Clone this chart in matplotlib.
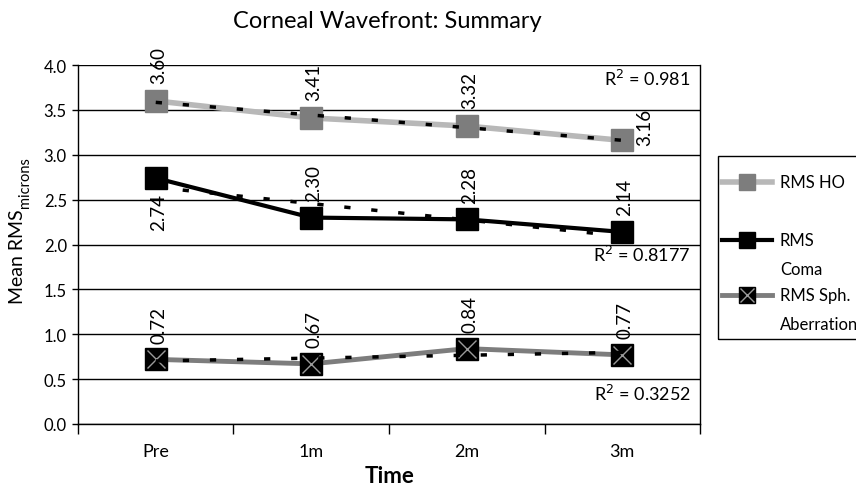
import numpy as np
import matplotlib.pyplot as plt
from matplotlib.lines import Line2D
from matplotlib.patches import Rectangle

times = ["Pre", "1m", "2m", "3m"]
rms_ho = [3.60, 3.41, 3.32, 3.16]
rms_coma = [2.74, 2.30, 2.28, 2.14]
rms_sph = [0.72, 0.67, 0.84, 0.77]
r2_text = ["0.981", "0.8177", "0.3252"]

FONT = "Lato"

fig = plt.figure(figsize=(8.56, 4.89), dpi=100)
ax = fig.add_axes([0.0911, 0.1309, 0.7267, 0.7341])
x = np.arange(len(times))

ax.set_xlim(-0.5, 3.5)
ax.set_ylim(0, 4.0)
ax.set_yticks(np.arange(0, 4.01, 0.5))
ax.set_yticklabels(["%.1f" % v for v in np.arange(0, 4.01, 0.5)], fontsize=12, family=FONT)
ax.yaxis.grid(True, color="black", lw=1.0)
ax.set_axisbelow(True)
ax.tick_params(axis="y", length=4, width=1, direction="out", pad=4)
ax.set_xticks(x)
ax.set_xticklabels(times, fontsize=13, family=FONT)
ax.set_xticks(np.arange(-0.5, 3.6, 1.0), minor=True)
ax.tick_params(axis="x", which="major", length=0, pad=14)
ax.tick_params(axis="x", which="minor", length=7, width=1, direction="out")
for s in ax.spines.values():
    s.set_color("black")
    s.set_linewidth(1.0)
ax.spines["top"].set_visible(False)

# series lines
ax.plot(x, rms_ho, color="#b8b8b8", lw=4, marker="s", ms=16.5,
        mfc="#7d7d7d", mec="#7d7d7d", zorder=3)
ax.plot(x, rms_coma, color="black", lw=3, marker="s", ms=16.5,
        mfc="black", mec="black", zorder=3)
ax.plot(x, rms_sph, color="#7d7d7d", lw=3.5, marker="s", ms=16.5,
        mfc="black", mec="black", zorder=3)
ax.plot(x, rms_sph, ls="none", marker="x", ms=13, mew=1,
        mec="#9a9a9a", zorder=4)

# linear trendlines
for ys in (rms_ho, rms_coma, rms_sph):
    k, b = np.polyfit(x, ys, 1)
    ax.plot(x, k * x + b, color="black", lw=2.5, ls=(0, (1.8, 6)), zorder=5)

# value labels
def vlabel(xi, yi, dx, dy, va):
    ax.annotate("%.2f" % yi, (xi, yi), xytext=(dx, dy), textcoords="offset points",
                rotation=90, ha="center", va=va, fontsize=13.5, family=FONT)

for i, v in enumerate(rms_ho):
    if i == 3:
        vlabel(i, v, 16, 10, "center")
    else:
        vlabel(i, v, 2, 13, "bottom")
for i, v in enumerate(rms_coma):
    if i == 0:
        vlabel(i, v, 2, -11, "top")
    else:
        vlabel(i, v, 2, 12, "bottom")
for i, v in enumerate(rms_sph):
    vlabel(i, v, 2, 12, "bottom")

r2_y = [3.86, 1.90, 0.35]
for t, yy in zip(r2_text, r2_y):
    ax.text(3.44, yy, "R$^2$ = " + t, ha="right", va="center", fontsize=13, family=FONT)

fig.text(0.453, 0.957, "Corneal Wavefront: Summary", ha="center", va="center",
         fontsize=17, family=FONT)
fig.text(0.455, 0.026, "Time", ha="center", va="center", fontsize=16,
         family=FONT, weight="bold")
fig.text(0.021, 0.476, "Mean RMS", rotation=90, ha="center", va="center",
         fontsize=14, family=FONT)
fig.text(0.029, 0.627, "microns", rotation=90, ha="center", va="center",
         fontsize=10.5, family=FONT)

# legend box, drawn in figure coordinates
fig.add_artist(Rectangle((0.8388, 0.3047), 0.2, 0.3742, transform=fig.transFigure,
                         fill=False, edgecolor="black", lw=1.0))
handles = [
    dict(color="#b8b8b8", lw=4, mfc="#7d7d7d", mec="#7d7d7d", cross=False),
    dict(color="black", lw=3, mfc="black", mec="black", cross=False),
    dict(color="#7d7d7d", lw=3.5, mfc="black", mec="black", cross=True),
]
labels = [["RMS HO"], ["RMS", "Coma"], ["RMS Sph.", "Aberration"]]
rows = [0.6258, 0.5072, 0.3947]
for h, lab, ry in zip(handles, labels, rows):
    fig.add_artist(Line2D([0.8435, 0.9019], [ry, ry], transform=fig.transFigure,
                          color=h["color"], lw=h["lw"]))
    fig.add_artist(Line2D([0.8727], [ry], transform=fig.transFigure, marker="s",
                          ms=12, mfc=h["mfc"], mec=h["mec"], ls="none"))
    if h["cross"]:
        fig.add_artist(Line2D([0.8727], [ry], transform=fig.transFigure, marker="x",
                              ms=10, mew=1, mec="#9a9a9a", ls="none"))
    for j, t in enumerate(lab):
        fig.text(0.911, ry - j * 0.059, t, ha="left", va="center",
                 fontsize=12, family=FONT)

fig.savefig("out.png", dpi=100)
